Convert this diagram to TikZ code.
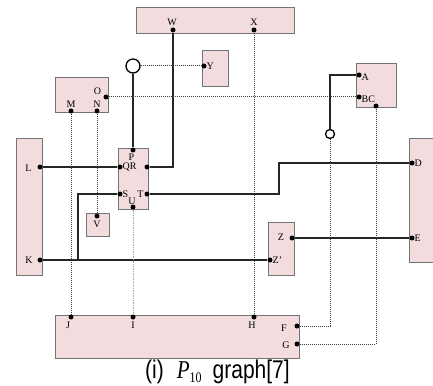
\documentclass[tikz,border=0pt]{standalone}
\usepackage{fontspec}
\setmainfont{Liberation Serif}
\newfontfamily\capfont{Liberation Sans}
\begin{document}
\begin{tikzpicture}[x=1pt,y=-1pt,
  box/.style={draw=black!55, fill={rgb,255:red,242;green,220;blue,222}, line width=0.7pt, inner sep=0pt},
  dot/.style={circle, fill=black, inner sep=0pt, minimum size=5pt},
  ring/.style={circle, draw=black, fill=white, line width=1.3pt, inner sep=0pt},
  lab/.style={font=\fontsize{10}{11}\selectfont, inner sep=0pt},
  wire/.style={line width=1.1pt, black!85},
  dwire/.style={line width=1pt, densely dotted, black!75},
  fwire/.style={line width=0.7pt, densely dotted, black!35}]
\useasboundingbox (0,0) rectangle (433,385);
% boxes
\node[box, minimum width=158pt, minimum height=26pt] (bWX) at (215,20) {};
\node[box, minimum width=26pt, minimum height=36pt] (bY) at (215,68) {};
\node[box, minimum width=53pt, minimum height=35pt] (bMNO) at (81.5,94.5) {};
\node[box, minimum width=26pt, minimum height=137pt] (bLK) at (29,206.5) {};
\node[box, minimum width=30pt, minimum height=61pt] (bPQR) at (133,178.5) {};
\node[box, minimum width=23pt, minimum height=23pt] (bV) at (97.5,224.5) {};
\node[box, minimum width=40pt, minimum height=44pt] (bABC) at (376,85) {};
\node[box, minimum width=30pt, minimum height=124pt] (bDE) at (424,200) {};
\node[box, minimum width=26pt, minimum height=53pt] (bZ) at (281,248.5) {};
\node[box, minimum width=244pt, minimum height=43pt] (bBot) at (177,336.5) {};
% dots
\node[dot] (W) at (173,30) {};
\node[dot] (X) at (254,30) {};
\node[ring, minimum size=14pt] (c1) at (133,66) {};
\node[dot] (Y) at (204,66) {};
\node[dot] (O) at (106,97) {};
\node[dot] (M) at (71,111) {};
\node[dot] (N) at (97,111) {};
\node[dot] (P) at (133,150) {};
\node[dot] (Q) at (120,167) {};
\node[dot] (R) at (147,167) {};
\node[dot] (L) at (40,167) {};
\node[dot] (S) at (120,194) {};
\node[dot] (T) at (147,194) {};
\node[dot] (U) at (133,207) {};
\node[dot] (V) at (97,216) {};
\node[dot] (K) at (40,260) {};
\node[dot] (J) at (71,317) {};
\node[dot] (I) at (133,317) {};
\node[dot] (H) at (254,317) {};
\node[dot] (F) at (297,326) {};
\node[dot] (G) at (297,344) {};
\node[dot] (Z) at (292,238) {};
\node[dot] (Zp) at (270,260) {};
\node[dot] (E) at (412,238) {};
\node[dot] (D) at (412,163) {};
\node[dot] (A) at (359,75) {};
\node[dot] (B) at (359,97) {};
\node[dot] (C) at (376,106) {};
\node[ring, minimum size=9pt] (c2) at (330,134) {};
\coordinate (wc) at (173,167);
\coordinate (sc1) at (78,194);
\coordinate (sc2) at (78,260);
\coordinate (tc1) at (279,194);
\coordinate (tc2) at (279,163);
\coordinate (ac) at (330,75);
\coordinate (fc) at (330,326);
\coordinate (gc) at (376,344);
% labels
\node[lab] at (172,22) {W};
\node[lab] at (254,22) {X};
\node[lab, anchor=west] at (206.5,66) {Y};
\node[lab] at (97.5,91) {O};
\node[lab] at (71,104) {M};
\node[lab] at (97,104) {N};
\node[lab] at (131.5,157) {P};
\node[lab, anchor=west] at (122.5,167) {QR};
\node[lab, anchor=west] at (122.5,194) {S};
\node[lab] at (132,201.5) {U};
\node[lab] at (140.5,194) {T};
\node[lab] at (28.5,168) {L};
\node[lab] at (29,260) {K};
\node[lab] at (97,224.5) {V};
\node[lab] at (68,325.5) {J};
\node[lab] at (133,325.5) {I};
\node[lab] at (252,325.5) {H};
\node[lab] at (284,328.5) {F};
\node[lab] at (286,345.5) {G};
\node[lab] at (281,237.5) {Z};
\node[lab, anchor=west] at (272.5,260) {Z'};
\node[lab, anchor=west] at (414.5,238) {E};
\node[lab, anchor=west] at (414.5,163) {D};
\node[lab, anchor=west] at (361.5,77.5) {A};
\node[lab, anchor=west] at (361.5,99.5) {BC};
% caption
\node[inner sep=0pt, anchor=base west, font=\capfont\fontsize{21}{24}\selectfont] (cap) at (145,378.5)
  {\scalebox{1}[1.22]{(i)\hspace{13pt}{\rmfamily\itshape P}\raisebox{-3pt}{\rmfamily\fontsize{12}{12}\selectfont 10}\hspace{11pt}graph[7]}};
% connectors
\draw[wire] (W) -- (wc) -- (R);
\draw[dwire] (X) -- (H);
\draw[dwire] (c1) -- (Y);
\draw[wire] (c1) -- (P);
\draw[dwire] (O) -- (B);
\draw[dwire] (M) -- (J);
\draw[dwire] (N) -- (V);
\draw[wire] (L) -- (Q);
\draw[wire] (S) -- (sc1) -- (sc2);
\draw[wire] (K) -- (Zp);
\draw[wire] (T) -- (tc1) -- (tc2) -- (D);
\draw[fwire] (U) -- (I);
\draw[wire] (Z) -- (E);
\draw[wire] (A) -- (ac) -- (c2);
\draw[dwire] (c2) -- (fc) -- (F);
\draw[dwire] (C) -- (gc) -- (G);
\end{tikzpicture}
\end{document}
